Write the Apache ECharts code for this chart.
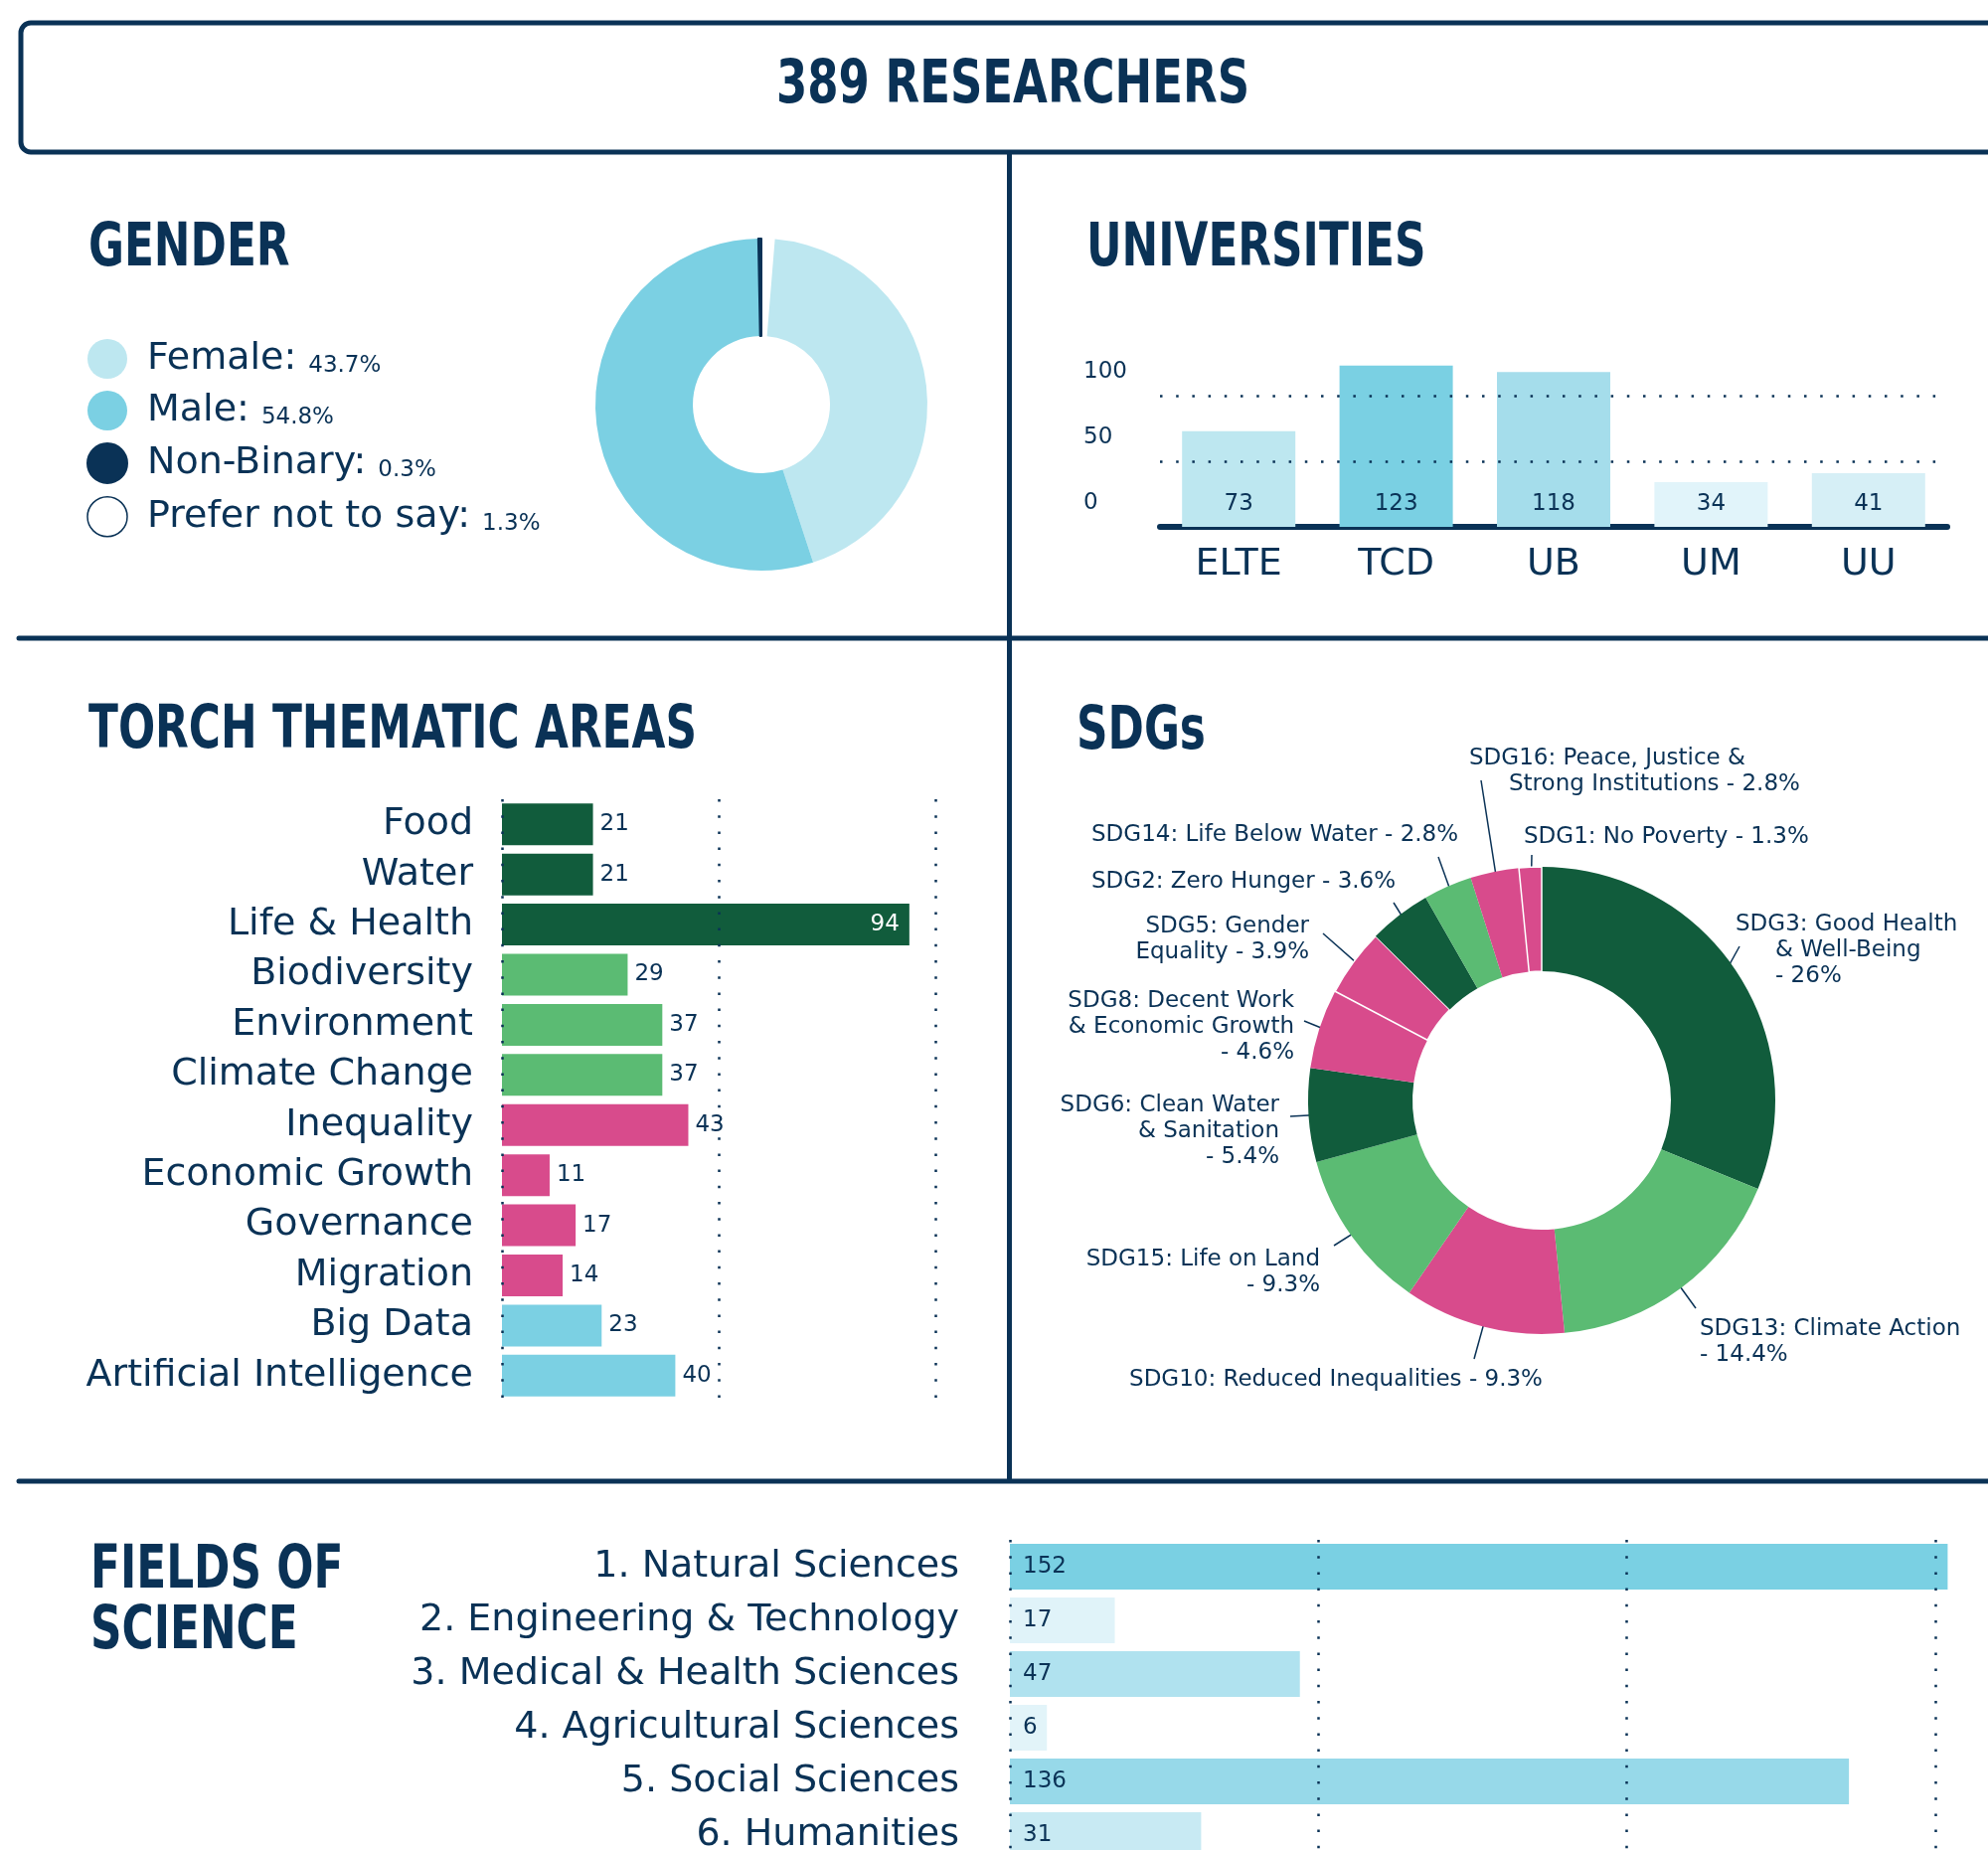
<!DOCTYPE html>
<html>
<head>
<meta charset="utf-8">
<script src="https://cdn.jsdelivr.net/npm/echarts@6/dist/echarts.min.js"></script>
<style>
  html, body { margin: 0; padding: 0; background: #fff; }
  #chart { width: 2000px; height: 1861px; }
</style>
</head>
<body>
<div id="chart"></div>
<script>
// ---- data ----
const genderNames = ['Female', 'Male', 'Non-Binary', 'Prefer not to say'];
const genderShares = [43.7, 54.8, 0.3, 1.3];

const universities = ['ELTE', 'TCD', 'UB', 'UM', 'UU'];
const universityCounts = [73, 123, 118, 34, 41];
const universityGridValues = [50, 100];

const themes = ['Food', 'Water', 'Life & Health', 'Biodiversity', 'Environment', 'Climate Change',
  'Inequality', 'Economic Growth', 'Governance', 'Migration', 'Big Data', 'Artificial Intelligence'];
const themeCounts = [21, 21, 94, 29, 37, 37, 43, 11, 17, 14, 23, 40];

const sdgNames = ['SDG3: Good Health & Well-Being', 'SDG13: Climate Action', 'SDG10: Reduced Inequalities',
  'SDG15: Life on Land', 'SDG6: Clean Water & Sanitation', 'SDG8: Decent Work & Economic Growth',
  'SDG5: Gender Equality', 'SDG2: Zero Hunger', 'SDG14: Life Below Water',
  'SDG16: Peace, Justice & Strong Institutions', 'SDG1: No Poverty'];
const sdgShares = [26, 14.4, 9.3, 9.3, 5.4, 4.6, 3.9, 3.6, 2.8, 2.8, 1.3];

const fields = ['1. Natural Sciences', '2. Engineering & Technology', '3. Medical & Health Sciences',
  '4. Agricultural Sciences', '5. Social Sciences', '6. Humanities'];
const fieldCounts = [152, 17, 47, 6, 136, 31];

// ---- styles ----
const FONT = 'DejaVu Sans';
const NAVY = '#0a3256';
const DARK_GREEN = '#115c3c';
const LIGHT_GREEN = '#5bbb73';
const PINK = '#d84b8c';
const CYAN = '#7bd0e3';

const genderColors = ['#bde7f0', CYAN, NAVY, '#ffffff'];
const genderOrder = [3, 0, 1, 2]; // clockwise from the top
const universityColors = ['#bde7f0', '#7ad0e3', '#a5ddeb', '#e1f4fa', '#d6eff6'];
const themeColors = [DARK_GREEN, DARK_GREEN, DARK_GREEN, LIGHT_GREEN, LIGHT_GREEN, LIGHT_GREEN,
  PINK, PINK, PINK, PINK, CYAN, CYAN];
const sdgColors = [DARK_GREEN, LIGHT_GREEN, PINK, LIGHT_GREEN, DARK_GREEN, PINK, PINK,
  DARK_GREEN, LIGHT_GREEN, PINK, PINK];
const fieldColors = ['#7ad0e3', '#e0f3f9', '#b0e2ef', '#e2f4f9', '#97d9e9', '#c8eaf3'];

const SDG_CENTER = [1551, 1107];
const SDG_RADIUS = [130, 235];
const SDG_LINE_START = 217;

// where each SDG label sits, where it wraps, and the outer end of its leader line
const sdgLabelPlacement = [
  { x: 1746, y: 917, align: 'left', breaks: ['& Well-Being', '- '], indent: true, end: [1750, 952] },
  { x: 1710, y: 1324, align: 'left', breaks: ['- '], end: [1706, 1316] },
  { x: 1344, y: 1375, align: 'center', breaks: [], end: [1483, 1367] },
  { x: 1328, y: 1254, align: 'right', breaks: ['- '], end: [1342, 1253] },
  { x: 1287, y: 1099, align: 'right', breaks: ['& ', '- '], end: [1298, 1123] },
  { x: 1302, y: 994, align: 'right', breaks: ['& ', '- '], end: [1312, 1027] },
  { x: 1317, y: 919, align: 'right', breaks: ['Equality'], end: [1331, 939] },
  { x: 1098, y: 874, align: 'left', breaks: [], end: [1402, 908] },
  { x: 1098, y: 827, align: 'left', breaks: [], end: [1447, 862] },
  { x: 1478, y: 750, align: 'left', breaks: ['Strong'], indent: true, end: [1490, 785] },
  { x: 1533, y: 829, align: 'left', breaks: [], end: [1541, 860] }
];

const dotted = { color: NAVY, width: 2.5, type: [2.5, 13.7] };
const textBase = { color: NAVY, fontFamily: FONT };

function sdgLabelText(i) {
  const place = sdgLabelPlacement[i];
  let text = sdgNames[i] + ' - ' + sdgShares[i] + '%';
  place.breaks.forEach((b) => {
    text = text.replace(' ' + b, '\n' + (place.indent ? '{i| }' : '') + b);
  });
  return text;
}

function sdgMidPoint(i, radius) {
  const total = sdgShares.reduce((a, b) => a + b, 0);
  const before = sdgShares.slice(0, i).reduce((a, b) => a + b, 0);
  const angle = ((before + sdgShares[i] / 2) / total) * Math.PI * 2;
  return [SDG_CENTER[0] + radius * Math.sin(angle), SDG_CENTER[1] - radius * Math.cos(angle)];
}

function heading(text, x, y, align, scale) {
  return {
    type: 'text',
    x,
    y,
    scaleX: scale,
    silent: true,
    style: {
      text,
      fill: NAVY,
      font: 'bold 60px "DejaVu Sans"',
      align,
      verticalAlign: 'middle',
      textAlign: align,
      textVerticalAlign: 'middle'
    }
  };
}

const maxTheme = Math.max(...themeCounts);

const chart = echarts.init(document.getElementById('chart'));

chart.setOption({
  animation: false,
  backgroundColor: '#ffffff',
  graphic: [
    { type: 'rect', silent: true, shape: { x: 21, y: 23, width: 2040, height: 130, r: 10 },
      style: { fill: 'transparent', stroke: NAVY, lineWidth: 5 } },
    { type: 'line', silent: true, shape: { x1: 1015.5, y1: 153, x2: 1015.5, y2: 1490 },
      style: { stroke: NAVY, lineWidth: 5 } },
    { type: 'line', silent: true, shape: { x1: 19, y1: 642, x2: 2010, y2: 642 },
      style: { stroke: NAVY, lineWidth: 5, lineCap: 'round' } },
    { type: 'line', silent: true, shape: { x1: 19, y1: 1490, x2: 2010, y2: 1490 },
      style: { stroke: NAVY, lineWidth: 5, lineCap: 'round' } },
    heading('389 RESEARCHERS', 1019, 87, 'center', 0.75),
    heading('GENDER', 89, 251, 'left', 0.73),
    heading('UNIVERSITIES', 1093, 251, 'left', 0.73),
    heading('TORCH THEMATIC AREAS', 89, 736, 'left', 0.73),
    heading('SDGs', 1083, 737, 'left', 0.73),
    heading('FIELDS OF', 91, 1581, 'left', 0.73),
    heading('SCIENCE', 91, 1642, 'left', 0.73)
  ],
  legend: {
    data: genderNames.map((name, i) => (i === 3
      ? { name, itemStyle: { borderColor: NAVY, borderWidth: 1.5 } }
      : { name })),
    orient: 'vertical',
    left: 87,
    top: 341,
    padding: 0,
    itemWidth: 40,
    itemHeight: 40,
    itemGap: 12,
    icon: 'circle',
    selectedMode: false,
    formatter: (name) => `{s| }{n|${name}: }{p|${genderShares[genderNames.indexOf(name)]}%}`,
    textStyle: {
      rich: {
        s: { width: 15, fontSize: 12 },
        n: { ...textBase, fontSize: 38, lineHeight: 38, verticalAlign: 'bottom' },
        p: { ...textBase, fontSize: 23, lineHeight: 28, verticalAlign: 'bottom' }
      }
    }
  },
  grid: [
    { left: 1167, right: 41, top: 332, bottom: 1331, outerBoundsMode: 'none' },
    { left: 505, right: 1059, top: 804, bottom: 452, outerBoundsMode: 'none' },
    { left: 1016, right: 53, top: 1549, bottom: -12, outerBoundsMode: 'none' }
  ],
  xAxis: [
    {
      gridIndex: 0,
      type: 'category',
      data: universities,
      axisTick: { show: false },
      axisLine: { show: true, lineStyle: { color: NAVY, width: 6, cap: 'round' } },
      axisLabel: { ...textBase, fontSize: 38, margin: 19 }
    },
    {
      gridIndex: 1,
      type: 'value',
      min: 0,
      max: 100,
      interval: 50,
      z: 3,
      axisLine: { show: false },
      axisTick: { show: false },
      axisLabel: { show: false },
      splitLine: { show: true, lineStyle: dotted }
    },
    {
      gridIndex: 2,
      type: 'value',
      min: 0,
      max: 150,
      interval: 50,
      z: 3,
      axisLine: { show: false },
      axisTick: { show: false },
      axisLabel: { show: false },
      splitLine: { show: true, lineStyle: dotted }
    }
  ],
  yAxis: [
    {
      gridIndex: 0,
      type: 'value',
      min: 0,
      max: 150,
      interval: 50,
      axisLine: { show: false },
      axisTick: { show: false },
      splitLine: { show: false },
      axisLabel: {
        ...textBase,
        fontSize: 23,
        align: 'left',
        margin: 77,
        verticalAlign: 'bottom',
        lineHeight: 48,
        showMaxLabel: false
      }
    },
    {
      gridIndex: 1,
      type: 'category',
      data: themes,
      inverse: true,
      axisLine: { show: false },
      axisTick: { show: false },
      axisLabel: { ...textBase, fontSize: 38, margin: 29, interval: 0 }
    },
    {
      gridIndex: 2,
      type: 'category',
      data: fields,
      inverse: true,
      axisLine: { show: false },
      axisTick: { show: false },
      axisLabel: { ...textBase, fontSize: 38, margin: 51, interval: 0 }
    }
  ],
  series: [
    {
      name: 'Gender',
      type: 'pie',
      center: [766, 407],
      radius: [69, 167],
      startAngle: 90,
      clockwise: true,
      silent: true,
      label: { show: false },
      labelLine: { show: false },
      data: genderOrder.map((i) => ({
        name: genderNames[i],
        value: genderShares[i],
        itemStyle: i === 2
          ? { color: genderColors[i], borderColor: NAVY, borderWidth: 2 }
          : { color: genderColors[i], borderWidth: 0 }
      }))
    },
    {
      name: 'Universities',
      type: 'bar',
      xAxisIndex: 0,
      yAxisIndex: 0,
      barWidth: 114,
      silent: true,
      data: universityCounts.map((v, i) => ({ value: v, itemStyle: { color: universityColors[i] } })),
      label: { show: true, position: 'insideBottom', distance: 11, ...textBase, fontSize: 23 },
      markLine: {
        silent: true,
        symbol: 'none',
        label: { show: false },
        lineStyle: dotted,
        data: universityGridValues.map((v) => ({ yAxis: v }))
      }
    },
    {
      name: 'Thematic areas',
      type: 'bar',
      xAxisIndex: 1,
      yAxisIndex: 1,
      barWidth: 42,
      silent: true,
      data: themeCounts.map((v, i) => {
        const item = { value: v, itemStyle: { color: themeColors[i] } };
        if (v === maxTheme) {
          item.label = { position: 'insideRight', color: '#ffffff', distance: 10 };
        }
        return item;
      }),
      label: { show: true, position: 'right', distance: 7, ...textBase, fontSize: 23 }
    },
    {
      name: 'SDGs',
      type: 'pie',
      center: SDG_CENTER,
      radius: SDG_RADIUS,
      startAngle: 90,
      clockwise: true,
      silent: true,
      avoidLabelOverlap: false,
      data: sdgNames.map((name, i) => ({
        name,
        value: sdgShares[i],
        itemStyle: {
          color: sdgColors[i],
          borderColor: '#ffffff',
          borderWidth: i > 0 && sdgColors[i] === sdgColors[i - 1] ? 1.5 : 0
        }
      })),
      label: {
        show: true,
        position: 'outside',
        formatter: (p) => sdgLabelText(p.dataIndex),
        ...textBase,
        fontSize: 23,
        lineHeight: 26,
        width: 440,
        rich: { i: { width: 40, fontSize: 23, lineHeight: 26 } }
      },
      labelLine: {
        show: true,
        showAbove: true,
        length: 10,
        length2: 10,
        lineStyle: { color: NAVY, width: 1.5 }
      },
      labelLayout: (params) => {
        const place = sdgLabelPlacement[params.dataIndex];
        const pts = params.labelLinePoints;
        let start;
        if (pts && pts.length) {
          const k = SDG_LINE_START / SDG_RADIUS[1];
          start = [SDG_CENTER[0] + (pts[0][0] - SDG_CENTER[0]) * k,
            SDG_CENTER[1] + (pts[0][1] - SDG_CENTER[1]) * k];
        } else {
          start = sdgMidPoint(params.dataIndex, SDG_LINE_START);
        }
        return {
          x: place.x,
          y: place.y,
          align: place.align,
          verticalAlign: 'top',
          labelLinePoints: [start, place.end, place.end]
        };
      }
    },
    {
      name: 'Fields of science',
      type: 'bar',
      xAxisIndex: 2,
      yAxisIndex: 2,
      barWidth: 46,
      clip: false,
      silent: true,
      data: fieldCounts.map((v, i) => ({ value: v, itemStyle: { color: fieldColors[i] } })),
      label: { show: true, position: 'insideLeft', distance: 13, ...textBase, fontSize: 23 }
    }
  ]
});
</script>
</body>
</html>
